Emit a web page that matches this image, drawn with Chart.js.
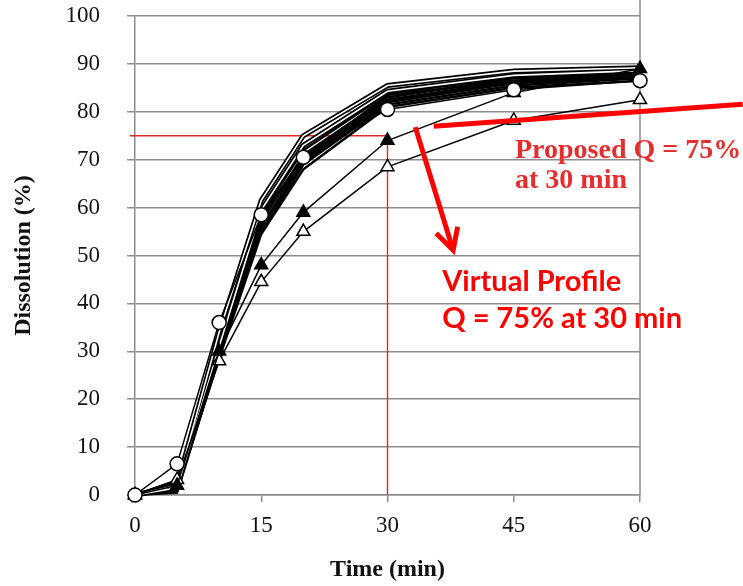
<!DOCTYPE html>
<html>
<head>
<meta charset="utf-8">
<script src="https://cdn.jsdelivr.net/npm/chart.js@4/dist/chart.umd.min.js"></script>
<style>
  html, body { margin: 0; padding: 0; background: #ffffff; }
  #wrap { width: 743px; height: 586px; }
</style>
</head>
<body>
<div id="wrap"><canvas id="c" width="743" height="586"></canvas></div>
<script>
// Sampling times (min)
const times = [0, 5, 10, 15, 20, 30, 45, 60];
const timeTicks = [0, 15, 30, 45, 60];
const dissolutionTicks = [0, 10, 20, 30, 40, 50, 60, 70, 80, 90, 100];

// Batch dissolution profiles (%), the dense band
const batchUpper = [0, 2, 34, 61.5, 75, 85.5, 88.5, 89.2];
const batchSecond = [0, 1.5, 31, 59.5, 73, 84.3, 87.6, 88.6];
const batchC = [0, 1, 30, 57, 71, 83, 87, 88];
const batchD = [0, 2, 32, 58, 70, 82.5, 86.5, 87.5];
const batchE = [0, 1, 29, 56, 69.5, 82, 86, 87.5];
const batchF = [0, 3, 31, 55, 69, 81.5, 85.5, 87];
const batchG = [0, 1.5, 28.5, 54.5, 68, 81, 85, 86.5];
const batchH = [0, 2.5, 30, 57.5, 70.5, 82.5, 86, 87];
const batchI = [0, 0.5, 29, 56, 70, 83.5, 86.5, 88];
const batchJ = [0, 1.8, 30.5, 58.5, 72, 83.8, 87.2, 88.2];

// Highlighted profiles (%)
const openCircles = [0, 6.5, 36, 58.5, 70.5, 80.5, 84.6, 86.5];
const filledTriangles = [0, 2, 30, 48, 59, 74, 84, 89];
const openTriangles = [0, 3.2, 28, 44.5, 55, 68.5, 78.2, 82.5];

// Specification
const qLimit = 75;
const qTime = 30;

const pts = arr => arr.map((v, i) => ({ x: times[i], y: v }));

const bundleLine = (arr) => ({
  data: pts(arr), borderColor: '#000', borderWidth: 2.5, pointRadius: 0,
  fill: false, tension: 0, clip: false, order: 10
});
// outlined line: wide black stroke with a white core on top
const outlinedLine = (arr) => ([
  { data: pts(arr), borderColor: '#000', borderWidth: 5, pointRadius: 0, fill: false, clip: false, order: 9 },
  { data: pts(arr), borderColor: '#fff', borderWidth: 1.6, pointRadius: 0, fill: false, clip: false, order: 8 }
]);

const datasets = [
  bundleLine(batchC), bundleLine(batchD), bundleLine(batchE), bundleLine(batchF),
  bundleLine(batchG), bundleLine(batchH), bundleLine(batchI), bundleLine(batchJ),
  ...outlinedLine(batchUpper), ...outlinedLine(batchSecond),
  { data: pts(openTriangles), borderColor: '#000', borderWidth: 1.5, pointStyle: 'triangle',
    pointRadius: 7.5, pointBackgroundColor: '#fff', pointBorderColor: '#000', pointBorderWidth: 1.5,
    clip: false, order: 3 },
  { data: pts(filledTriangles), borderColor: '#000', borderWidth: 1.5, pointStyle: 'triangle',
    pointRadius: 7.5, pointBackgroundColor: '#000', pointBorderColor: '#000', pointBorderWidth: 1.5,
    clip: false, order: 2 },
  { data: pts(openCircles), borderColor: '#000', borderWidth: 1.5, pointStyle: 'circle',
    pointRadius: 7, pointBackgroundColor: '#fff', pointBorderColor: '#000', pointBorderWidth: 1.5,
    clip: false, order: 1 }
];

// Q reference lines drawn under the profiles, plus the right frame edge
const qLines = {
  id: 'qLines',
  beforeDatasetsDraw(chart) {
    const { ctx, scales: { x, y }, chartArea } = chart;
    const yq = y.getPixelForValue(qLimit);
    const xq = x.getPixelForValue(qTime);
    ctx.save();
    ctx.strokeStyle = '#dd2a2a';
    ctx.lineWidth = 1.4;
    ctx.beginPath();
    ctx.moveTo(chartArea.left - 5, yq);
    ctx.lineTo(xq, yq);
    ctx.lineTo(xq, y.getPixelForValue(0));
    ctx.stroke();
    ctx.restore();
  },
  beforeDraw(chart) {
    const { ctx, chartArea } = chart;
    ctx.save();
    ctx.strokeStyle = '#8c8c8c';
    ctx.lineWidth = 1.5;
    ctx.beginPath();
    ctx.moveTo(chartArea.right, 0);
    ctx.lineTo(chartArea.right, chartArea.bottom);
    ctx.stroke();
    ctx.restore();
  }
};

// Callout lines, arrow and captions
const callouts = {
  id: 'callouts',
  afterDraw(chart) {
    const { ctx, scales: { x, y } } = chart;
    const px = v => x.getPixelForValue(v);
    const py = v => y.getPixelForValue(v);
    ctx.save();
    ctx.strokeStyle = '#ff0000';
    ctx.lineWidth = 5;
    ctx.lineCap = 'butt';
    // pointer line to the proposed Q caption
    ctx.beginPath();
    ctx.moveTo(px(35.5), py(77.0));
    ctx.lineTo(px(72.2), py(81.6));
    ctx.stroke();
    // arrow to the virtual profile caption
    const x0 = px(33.3), y0 = py(76.8), x1 = px(37.8), y1 = py(51.1);
    ctx.beginPath();
    ctx.moveTo(x0, y0);
    ctx.lineTo(x1, y1);
    ctx.stroke();
    const back = Math.atan2(y0 - y1, x0 - x1);
    const wing = 24, spread = 28 * Math.PI / 180;
    ctx.lineJoin = 'miter';
    ctx.beginPath();
    ctx.moveTo(x1 + wing * Math.cos(back + spread), y1 + wing * Math.sin(back + spread));
    ctx.lineTo(x1, y1);
    ctx.lineTo(x1 + wing * Math.cos(back - spread), y1 + wing * Math.sin(back - spread));
    ctx.stroke();

    ctx.textAlign = 'left';
    ctx.textBaseline = 'alphabetic';
    ctx.fillStyle = '#e62e2e';
    ctx.font = 'bold 28px "Liberation Serif", "Times New Roman", serif';
    ctx.fillText('Proposed Q = 75%', px(45.15), py(70.35));
    ctx.fillText('at 30 min', px(45.15), py(64.1));

    ctx.fillStyle = '#ff0000';
    ctx.font = 'bold 29px Lato, "Liberation Sans", sans-serif';
    ctx.fillText('Virtual Profile', px(36.5), py(42.6));
    ctx.fillText('Q = 75% at 30 min', px(36.5), py(34.9));
    ctx.restore();
  }
};

const serif = '"Liberation Serif", "Times New Roman", serif';

new Chart(document.getElementById('c'), {
  type: 'line',
  data: { datasets },
  options: {
    responsive: false,
    animation: false,
    events: [],
    layout: { padding: { left: 0, right: 103, top: 16, bottom: 0 } },
    plugins: { legend: { display: false }, tooltip: { enabled: false } },
    scales: {
      x: {
        type: 'linear', min: 0, max: 60,
        afterBuildTicks: s => { s.ticks = timeTicks.map(v => ({ value: v })); },
        afterFit: s => { s.height = 91; },
        grid: { drawOnChartArea: false, drawTicks: true, tickLength: 7, color: '#8c8c8c', lineWidth: 1.5 },
        border: { display: true, color: '#8c8c8c', width: 1.5 },
        ticks: { color: '#111', padding: 10, maxRotation: 0, autoSkip: false,
                 font: { family: serif, size: 23 } },
        title: { display: true, text: 'Time (min)', color: '#111',
                 font: { family: serif, size: 24, weight: 'bold' }, padding: { top: 0, bottom: 2 } }
      },
      y: {
        min: 0, max: 100,
        afterBuildTicks: s => { s.ticks = dissolutionTicks.map(v => ({ value: v })); },
        afterFit: s => { s.width = 135; s.paddingTop = 12; s.paddingBottom = 12; },
        grid: { drawOnChartArea: true, drawTicks: true, tickLength: 8, color: '#8c8c8c', lineWidth: 1.5 },
        border: { display: true, color: '#8c8c8c', width: 1.5 },
        ticks: { color: '#111', padding: 27, font: { family: serif, size: 23 } },
        title: { display: true, text: 'Dissolution (%)', color: '#111',
                 font: { family: serif, size: 24, weight: 'bold' }, padding: { top: 9, bottom: 0 } }
      }
    }
  },
  plugins: [qLines, callouts]
});
</script>
</body>
</html>
